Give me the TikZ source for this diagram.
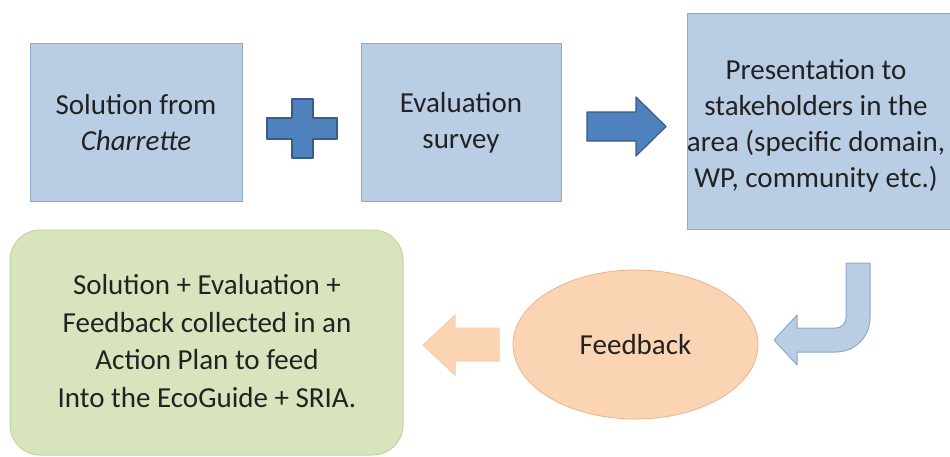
\documentclass[tikz,border=0pt]{standalone}
\usepackage{fontspec}
\setmainfont{Carlito}
\usetikzlibrary{shapes.geometric}
\definecolor{boxfill}{HTML}{B9CDE5}
\definecolor{boxline}{HTML}{8EA9CC}
\definecolor{darkfill}{HTML}{4F81BD}
\definecolor{darkline}{HTML}{385D8A}
\definecolor{greenfill}{HTML}{D7E4BD}
\definecolor{greenline}{HTML}{C3D69B}
\definecolor{orangefill}{HTML}{FBD4B4}
\definecolor{orangeline}{HTML}{EBB48C}
\definecolor{txt}{HTML}{222222}
\tikzset{
  txtstyle/.style={text=txt, align=center, font=\fontsize{29}{36}\selectfont, inner sep=0pt},
  bluebox/.style={draw=boxline, fill=boxfill, line width=1pt},
  darkshape/.style={draw=darkline, fill=darkfill, line width=1.2pt, line join=round},
  lightarrow/.style={draw=boxline, fill=boxfill, line width=1pt, line join=round},
  orangearrow/.style={draw=orangefill!80!orangeline, fill=orangefill, line width=1pt},
}
\begin{document}
\begin{tikzpicture}[x=1pt, y=-1pt]
\clip (0,0) rectangle (950,456);
\fill[white] (0,0) rectangle (950,456);
% top boxes
\draw[bluebox] (30,43) rectangle (242,201);
\node[txtstyle] (sol) at (136,123) {Solution from\\\textit{Charrette}};
\draw[bluebox] (361,43) rectangle (561,201);
\node[txtstyle] (eval) at (461,123) {Evaluation\\survey};
\draw[bluebox] (687,13) rectangle (960,229);
\node[txtstyle] (pres) at (816,126) {Presentation to\\stakeholders in the\\area (specific domain,\\WP, community etc.)};
% plus sign
\draw[darkshape] (292,99) -- (313,99) -- (313,118) -- (337,118) -- (337,139) -- (313,139)
  -- (313,158) -- (292,158) -- (292,139) -- (267,139) -- (267,118) -- (292,118) -- cycle;
% right arrow
\draw[darkshape] (587,112) -- (636,112) -- (636,97) -- (666,126.5) -- (636,156) -- (636,141) -- (587,141) -- cycle;
% green box
\draw[draw=greenline, fill=greenfill, line width=1pt, rounded corners=30pt] (10,230) rectangle (403,455);
\node[txtstyle, font=\fontsize{29}{37.5}\selectfont] (plan) at (207,341) {Solution + Evaluation +\\Feedback collected in an\\Action Plan to feed\\Into the EcoGuide + SRIA.};
% feedback ellipse
\node[ellipse, draw=orangeline, fill=orangefill, line width=0.8pt, minimum width=245pt, minimum height=149pt, inner sep=0pt] (fb) at (635.5,344.5) {};
\node[txtstyle] (fbt) at (fb.center) {Feedback};
% orange left arrow
\draw[orangearrow] (423,345) -- (455,315) -- (455,328) -- (499,328) -- (499,361) -- (455,361) -- (455,375) -- cycle;
% curved blue arrow
\draw[lightarrow] (846,263) -- (870,263) -- (870,318) arc[start angle=0, end angle=90, radius=34]
  -- (797,352) -- (797,365) -- (774,340) -- (797,315) -- (797,328) -- (836,328)
  arc[start angle=90, end angle=0, radius=10] -- cycle;
\end{tikzpicture}
\end{document}
